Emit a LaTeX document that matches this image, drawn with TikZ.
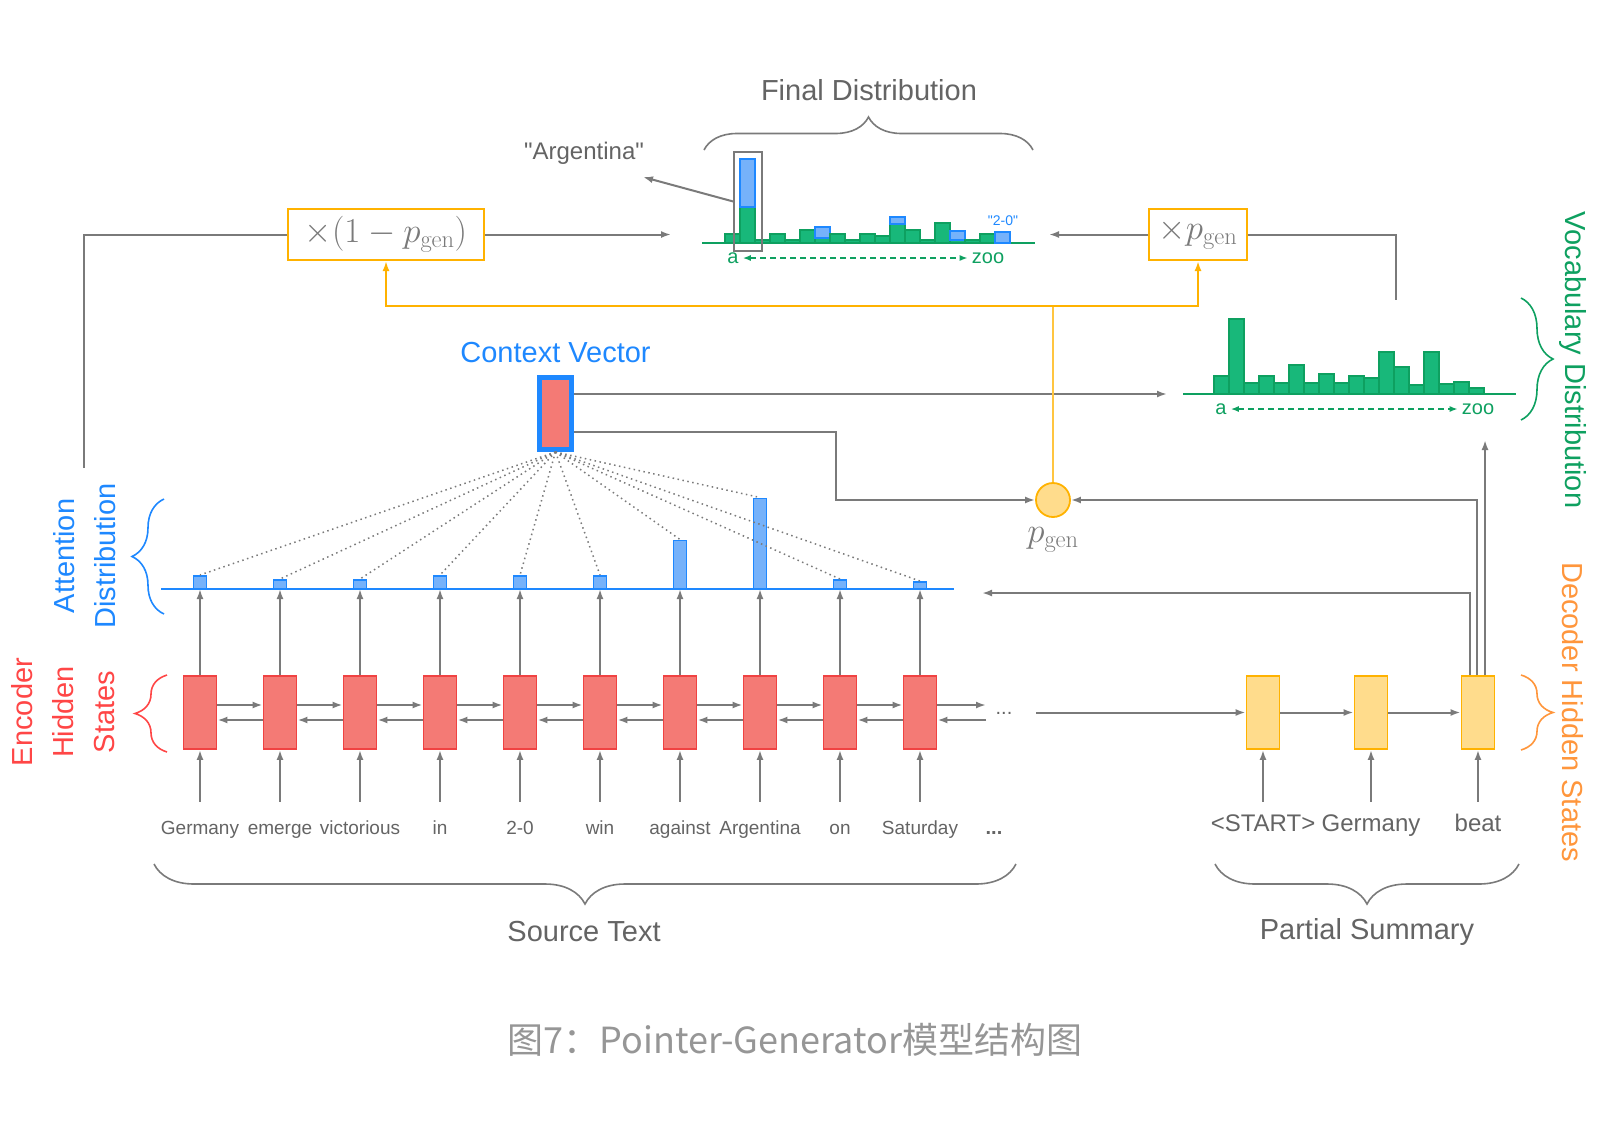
\RequirePackage{fix-cm}
\documentclass[tikz,border=0pt]{standalone}
\usepackage[no-math]{fontspec}
\setmainfont{Liberation Sans}
\newfontfamily\cjk{Noto Sans CJK SC}
\usetikzlibrary{arrows.meta,positioning,decorations.pathreplacing}
\definecolor{lnc}{RGB}{122,122,122}
\definecolor{txc}{RGB}{100,100,100}
\definecolor{encf}{RGB}{244,122,117}
\definecolor{encd}{RGB}{240,66,66}
\definecolor{attf}{RGB}{118,178,250}
\definecolor{attd}{RGB}{30,136,255}
\definecolor{vocf}{RGB}{24,184,122}
\definecolor{vocd}{RGB}{14,160,96}
\definecolor{amb}{RGB}{255,178,0}
\definecolor{decf}{RGB}{255,220,140}
\definecolor{dect}{RGB}{255,150,60}
\definecolor{enct}{RGB}{255,70,70}
\definecolor{capc}{RGB}{150,150,150}
\tikzset{
  arr/.style={-{Latex[length=10pt,width=7pt]},draw=lnc,line width=2pt},
  oarr/.style={-{Latex[length=10pt,width=7pt]},draw=amb,line width=2pt},
  ln/.style={draw=lnc,line width=2pt},
  attn/.style={draw=lnc,line width=1.5pt,dash pattern=on 1.5pt off 3.5pt},
  dsh/.style={{Latex[length=8pt,width=6pt]}-{Latex[length=8pt,width=6pt]},draw=vocd,line width=1.5pt,dash pattern=on 6pt off 4pt},
  encbox/.style={draw=encd,fill=encf,line width=1.8pt,minimum width=33pt,minimum height=73pt,inner sep=0pt},
  decbox/.style={draw=amb,fill=decf,line width=1.8pt,minimum width=33pt,minimum height=73pt,inner sep=0pt},
  attbar/.style={draw=attd,fill=attf,line width=1.5pt,minimum width=13pt,inner sep=0pt,anchor=south},
  gbar/.style={draw=vocd,fill=vocf,line width=1.5pt},
  bbar/.style={draw=attd,fill=attf,line width=1.5pt},
  word/.style={text=txc,font=\fontsize{19}{22}\selectfont,inner sep=0pt,anchor=base,text height=15pt},
  dword/.style={text=txc,font=\fontsize{24}{26}\selectfont,inner sep=0pt,anchor=base,text height=18pt},
  ttl/.style={text=txc,font=\fontsize{29}{32}\selectfont,inner sep=0pt},
  side/.style={font=\fontsize{29}{41}\selectfont,inner sep=0pt,align=center},
  tick/.style={text=vocd,font=\fontsize{20}{22}\selectfont,inner sep=4pt},
  mbox/.style={draw=amb,line width=2pt,inner sep=0pt,text=lnc,font=\fontsize{35}{40}\selectfont},
  brc/.style={draw=lnc,line width=1.6pt,decorate,decoration={brace,amplitude=#1}},
  brc/.default=32pt,
}

\begin{document}
\begin{tikzpicture}[x=1pt,y=-1pt]
  \useasboundingbox (0,0) rectangle (1612,1120);

  % encoder, source words
  \foreach \w [count=\i from 0] in {Germany,emerge,victorious,in,2-0,win,against,Argentina,on,Saturday}{
    \node[encbox] (e\i) at (200+80*\i,712.5) {};
    \node[word] (w\i) at (200+80*\i,834) {\w};
    \draw[arr] ([yshift=17pt]w\i.north) -- (e\i.south);
  }
  \foreach \i [count=\j from 1] in {0,...,8}{
    \draw[arr] ([yshift=7.5pt]e\i.east) -- ([yshift=7.5pt]e\j.west);
    \draw[arr] ([yshift=-7.5pt]e\j.west) -- ([yshift=-7.5pt]e\i.east);
  }
  \coordinate (ex1) at (986,705);
  \coordinate (ex2) at (986,720);
  \draw[arr] ([yshift=7.5pt]e9.east) -- (ex1);
  \draw[arr] (ex2) -- ([yshift=-7.5pt]e9.east);
  \node[text=txc,font=\fontsize{20}{22}\selectfont] (edots) at (1004,713) {...};
  \node[word,font=\bfseries\fontsize{20}{22}\selectfont] (wdots) at (994,834) {...};

  % attention distribution
  \draw[attd,line width=1.8pt] (161,589) -- (954,589);
  \foreach \h [count=\i from 0] in {12.5,8.5,8.5,12.5,12.5,12.5,48,90,8.5,6.5}{
    \node[attbar,minimum height=\h pt] (a\i) at (200+80*\i,589) {};
    \draw[arr] (e\i.north) -- (a\i.south);
  }

  % context vector
  \node[draw=attd,fill=encf,line width=5pt,minimum width=32pt,minimum height=72pt,inner sep=0pt] (cv) at (555.5,413.5) {};
  \node[ttl,text=attd,above=12pt of cv] (cvl) {Context Vector};
  \foreach \i in {0,...,9}
    \draw[attn] (cv.south) -- (a\i.north);

  % decoder, partial summary
  \foreach \w/\x [count=\i] in {<START>/1263,Germany/1371,beat/1478}{
    \node[decbox] (d\i) at (\x,712.5) {};
    \node[dword] (s\i) at (\x,831) {\w};
    \draw[arr] ([yshift=11pt]s\i.north) -- (d\i.south);
  }
  \coordinate (dstart) at (1036,712.5);
  \draw[arr] (dstart) -- (d1);
  \draw[arr] (d1) -- (d2);
  \draw[arr] (d2) -- (d3);

  % vocabulary distribution
  \draw[vocd,line width=1.8pt] (1183,394) -- (1516,394);
  \foreach \h [count=\k from 0] in {18,75,11,18,11,29,11,20,11,18,16,42,27,9,42,10,12,6}
    \draw[gbar] (1214+15*\k,394) rectangle ++(15,-\h);
  \node[tick] (va) at (1221,409) {a};
  \node[tick] (vz) at (1478,409) {zoo};
  \draw[dsh] (va) -- (vz);

  % p_gen
  \node[circle,draw=amb,fill=decf,line width=1.8pt,minimum size=34pt,inner sep=0pt] (pg) at (1053,500) {};
  \node[text=lnc,font=\fontsize{35}{40}\selectfont,inner sep=0pt,below=9pt of pg] (pgl) {$p_{\mathrm{gen}}$};

  \coordinate (vin) at (1167,394);
  \draw[arr] ([yshift=19.5pt]cv.east) -- (vin);
  \draw[arr] ([yshift=-18.5pt]cv.east) -- ++(262,0) |- (pg.west);
  \coordinate (ain) at (982,593);
  \coordinate (vup) at (1485,440);
  \draw[arr] ([xshift=-8pt]d3.north) |- (ain);
  \draw[arr] ([xshift=-1pt]d3.north) |- (pg.east);
  \draw[arr] ([xshift=7pt]d3.north) -- (vup);

  % final distribution
  \draw[vocd,line width=1.8pt] (702,243) -- (1035,243);
  \foreach \g/\b [count=\k from 0] in {9/0,36/48,3/0,9/0,3/0,13/0,5/11,9/0,3/0,9/0,7/0,19/7,13/0,3/0,20/0,3/9,3/0,9/0,0/11}{
    \ifnum\g>0 \draw[gbar] (725+15*\k,243) rectangle ++(15,-\g); \fi
    \ifnum\b>0 \draw[bbar] (725+15*\k,243-\g) rectangle ++(15,-\b); \fi
  }
  \node[tick] (fa) at (733,258) {a};
  \node[tick] (fz) at (988,258) {zoo};
  \draw[dsh] (fa) -- (fz);
  \node[text=attd,font=\fontsize{14}{16}\selectfont,inner sep=0pt] (two) at (1003,221) {\textquotedbl 2-0\textquotedbl};
  \node[draw=lnc,line width=1.5pt,minimum width=28pt,minimum height=99pt,inner sep=0pt] (argbox) at (748,201.5) {};
  \node[text=txc,font=\fontsize{24}{26}\selectfont,inner sep=0pt] (argl) at (584,153) {\textquotedbl Argentina\textquotedbl};
  \coordinate (argt) at (643,177);
  \draw[arr] (argbox.west) -- (argt);
  \node[ttl] (fdl) at (869,90) {Final Distribution};
  \draw[brc=33pt] (704,150) -- (1033,150);

  % mixing boxes
  \node[mbox,minimum width=196pt,minimum height=51pt] (m1) at (386,234.5) {$\times(1-p_{\mathrm{gen}})$};
  \node[mbox,minimum width=98pt,minimum height=51pt] (m2) at (1198,234.5) {$\times p_{\mathrm{gen}}$};
  \coordinate (fin1) at (671,234.5);
  \coordinate (fin2) at (1049,234.5);
  \coordinate (lft) at (84,468);
  \coordinate (rgt) at (1396,300);
  \draw[ln] (lft) |- (m1.west);
  \draw[arr] (m1.east) -- (fin1);
  \draw[arr] (m2.west) -- (fin2);
  \draw[ln] (m2.east) -| (rgt);
  \coordinate (oj) at (1053,306);
  \draw[amb!75,line width=1.5pt] (pg.north) -- (oj);
  \draw[oarr] (oj) -| (m1.south);
  \draw[oarr] (oj) -| (m2.south);

  % braces and side labels
  \draw[brc,draw=attd] (164,614) -- (164,499);
  \node[side,text=attd,rotate=90] (attl) at (85,556) {Attention\\Distribution};
  \draw[brc,draw=enct] (167,752) -- (167,675);
  \node[side,text=enct,rotate=90] (encl) at (63,712) {Encoder\\Hidden\\States};
  \draw[brc,draw=vocd] (1521,298) -- (1521,420);
  \node[side,text=vocd,rotate=-90] (vocl) at (1573,360) {Vocabulary Distribution};
  \draw[brc,draw=dect] (1521,675) -- (1521,750);
  \node[side,text=dect,rotate=-90] (decl) at (1573,712) {Decoder Hidden States};
  \draw[brc=40pt] (1016,864) -- (154,864);
  \node[ttl] (src) at (584,932) {Source Text};
  \draw[brc=40pt] (1519,864) -- (1215,864);
  \node[ttl] (psum) at (1367,932) {Partial Summary};

  \node[text=capc,font=\cjk\fontsize{36}{40}\selectfont,inner sep=0pt] (cap) at (795,1040) {图7：Pointer-Generator模型结构图};
\end{tikzpicture}
\end{document}
